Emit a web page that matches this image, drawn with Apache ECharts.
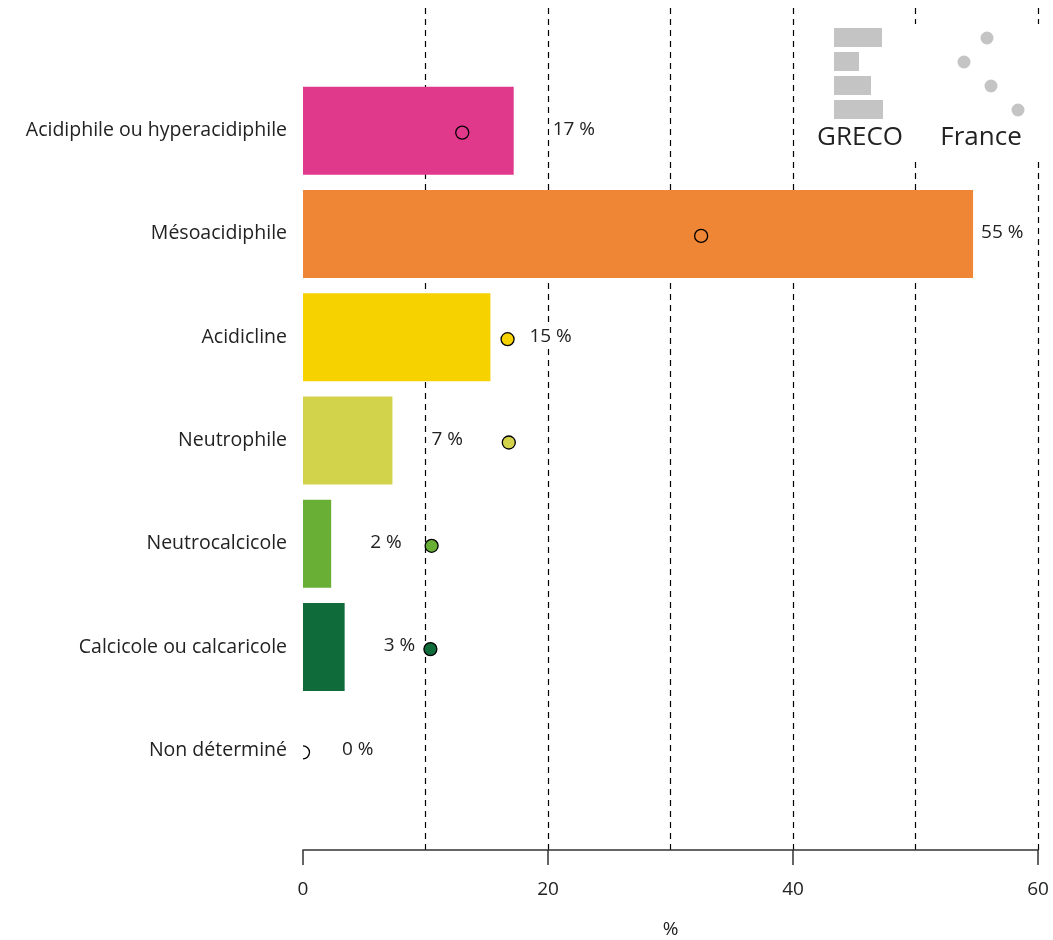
<!DOCTYPE html>
<html>
<head>
<meta charset="utf-8">
<script src="https://cdn.jsdelivr.net/npm/echarts@6/dist/echarts.min.js"></script>
<style>
  html, body { margin: 0; padding: 0; background: #fff; }
  #main { width: 1053px; height: 940px; }
</style>
</head>
<body>
<div id="main"></div>
<script>
// catégories (de haut en bas)
var categories = ["Acidiphile ou hyperacidiphile", "Mésoacidiphile", "Acidicline", "Neutrophile",
  "Neutrocalcicole", "Calcicole ou calcaricole", "Non déterminé"];
// GRECO (barres) en %
var grecoValues = [17.2, 54.7, 15.3, 7.3, 2.3, 3.4, 0];
// France (points) en %
var franceValues = [13.0, 32.5, 16.7, 16.8, 10.5, 10.4, 0];
// étiquettes
var valueLabels = ["17 %", "55 %", "15 %", "7 %", "2 %", "3 %", "0 %"];
var colors = ["#E0398B", "#EE8636", "#F6D200", "#D2D24B", "#6AAF35", "#106B3B", "#FFFFFF"];
var xTicks = [0, 20, 40, 60];

var font = "'Open Sans', sans-serif";
var myChart = echarts.init(document.getElementById('main'));

var barData = grecoValues.map(function(v, i) {
  var item = { value: v, itemStyle: { color: colors[i] } };
  if (i === 1) item.label = { distance: 5 };
  return item;
});
var pointData = franceValues.map(function(v, i) {
  return [v, i];
});

var option = {
  animation: false,
  grid: [
    { left: 303, right: 15, top: 8, bottom: 90, outerBoundsMode: 'none' },
    { left: 303, right: 15, top: 79, height: 723, outerBoundsMode: 'none' }
  ],
  xAxis: [{
    gridIndex: 0, type: 'value', min: xTicks[0], max: xTicks[xTicks.length - 1], interval: 20,
    name: '%', nameLocation: 'middle', nameGap: 70,
    nameTextStyle: { fontFamily: font, fontSize: 19, color: '#222' },
    axisLine: { show: true, lineStyle: { color: '#333', width: 1.5 } },
    axisTick: { show: true, length: 15, lineStyle: { color: '#333', width: 1.5 } },
    axisLabel: { fontFamily: font, fontSize: 19, color: '#222', margin: 30 },
    splitLine: { show: true, showMinLine: false, lineStyle: { color: '#000', type: [6, 5], width: 1.2 } },
    minorTick: { show: false, splitNumber: 2 },
    minorSplitLine: { show: true, lineStyle: { color: '#000', type: [6, 5], width: 1.2 } }
  }, {
    gridIndex: 1, type: 'value', min: 0, max: 60, show: false
  }],
  yAxis: [{
    gridIndex: 0, type: 'value', show: false
  }, {
    gridIndex: 1, type: 'category', data: categories, inverse: true,
    axisLine: { show: false }, axisTick: { show: false },
    axisLabel: { fontFamily: font, fontSize: 19.5, color: '#222', margin: 16 },
    splitLine: { show: false }
  }],
  series: [{
    name: 'GRECO', type: 'bar', xAxisIndex: 1, yAxisIndex: 1,
    data: barData, barWidth: 88, z: 2,
    label: {
      show: true, position: 'right', distance: 36,
      formatter: function(p) { return valueLabels[p.dataIndex]; },
      fontFamily: font, fontSize: 19, color: '#222',
      backgroundColor: '#fff', padding: [2, 3], offset: [0, -1]
    }
  }, {
    name: 'France', type: 'custom', xAxisIndex: 1, yAxisIndex: 1,
    data: pointData, z: 3, clip: true,
    renderItem: function(params, api) {
      var c = api.coord([api.value(0), api.value(1)]);
      return {
        type: 'circle',
        shape: { cx: c[0], cy: c[1] + 2, r: 6.5 },
        style: { fill: colors[params.dataIndex], stroke: '#000', lineWidth: 1.3 }
      };
    }
  }],
  graphic: [
    { type: 'rect', shape: { x: 800, y: 24, width: 253, height: 134 }, style: { fill: '#fff' }, z: 10 },
    { type: 'rect', shape: { x: 834, y: 28, width: 48, height: 19 }, style: { fill: '#C4C4C4' }, z: 11 },
    { type: 'rect', shape: { x: 834, y: 52, width: 25, height: 19 }, style: { fill: '#C4C4C4' }, z: 11 },
    { type: 'rect', shape: { x: 834, y: 76, width: 37, height: 19 }, style: { fill: '#C4C4C4' }, z: 11 },
    { type: 'rect', shape: { x: 834, y: 100, width: 49, height: 19 }, style: { fill: '#C4C4C4' }, z: 11 },
    { type: 'circle', shape: { cx: 987, cy: 38, r: 6.5 }, style: { fill: '#C4C4C4' }, z: 11 },
    { type: 'circle', shape: { cx: 964, cy: 62, r: 6.5 }, style: { fill: '#C4C4C4' }, z: 11 },
    { type: 'circle', shape: { cx: 991, cy: 86, r: 6.5 }, style: { fill: '#C4C4C4' }, z: 11 },
    { type: 'circle', shape: { cx: 1018, cy: 110, r: 6.5 }, style: { fill: '#C4C4C4' }, z: 11 },
    { type: 'text', x: 860, y: 138, z: 11,
      style: { text: 'GRECO', fontFamily: font, fontSize: 26, fill: '#222', textAlign: 'center', textVerticalAlign: 'middle' } },
    { type: 'text', x: 981, y: 138, z: 11,
      style: { text: 'France', fontFamily: font, fontSize: 26, fill: '#222', textAlign: 'center', textVerticalAlign: 'middle' } }
  ]
};
myChart.setOption(option);
</script>
</body>
</html>
